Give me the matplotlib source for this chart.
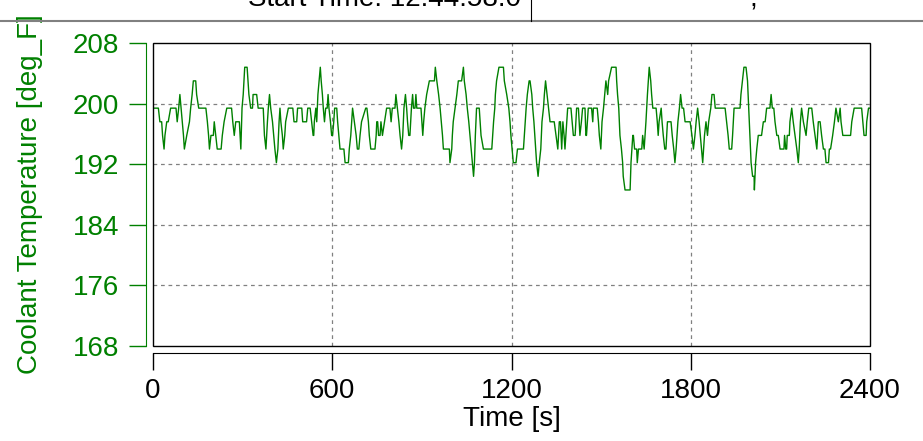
import matplotlib
matplotlib.use('Agg')
import matplotlib.pyplot as plt
from matplotlib.patches import Rectangle
from matplotlib.lines import Line2D

# coolant temperature trace
time_s = [
    0, 18, 23, 29, 32, 37, 40, 46, 51, 59,
    77, 81, 86, 90, 94, 98, 102, 105, 113, 122,
    126, 131, 135, 143, 146, 153, 177, 182, 186, 189,
    194, 202, 205, 210, 215, 228, 232, 238, 247, 263,
    267, 272, 277, 289, 294, 298, 302, 307, 315, 318,
    321, 327, 333, 335, 347, 352, 369, 373, 378, 383,
    386, 390, 394, 400, 404, 408, 413, 418, 422, 425,
    428, 433, 436, 441, 444, 453, 468, 472, 481, 484,
    498, 501, 514, 518, 526, 531, 536, 538, 540, 545,
    548, 552, 556, 560, 563, 567, 570, 574, 578, 583,
    586, 589, 594, 598, 601, 605, 608, 615, 618, 622,
    626, 639, 643, 654, 657, 662, 665, 668, 674, 680,
    684, 689, 693, 698, 712, 716, 721, 724, 729, 743,
    747, 749, 752, 755, 760, 763, 768, 775, 782, 793,
    797, 801, 810, 813, 818, 823, 827, 832, 836, 840,
    845, 849, 852, 856, 860, 865, 869, 872, 877, 880,
    883, 897, 900, 903, 906, 910, 916, 925, 942, 945,
    950, 956, 961, 965, 969, 972, 992, 994, 1000, 1002,
    1005, 1011, 1017, 1022, 1033, 1039, 1042, 1048, 1052, 1057,
    1061, 1065, 1069, 1073, 1076, 1079, 1083, 1092, 1095, 1098,
    1106, 1134, 1137, 1140, 1144, 1146, 1150, 1158, 1173, 1176,
    1184, 1191, 1195, 1198, 1202, 1206, 1215, 1220, 1240, 1243,
    1246, 1249, 1253, 1259, 1262, 1268, 1271, 1275, 1278, 1281,
    1284, 1289, 1293, 1298, 1302, 1307, 1310, 1314, 1319, 1324,
    1329, 1343, 1349, 1355, 1360, 1364, 1368, 1372, 1376, 1379,
    1385, 1388, 1399, 1403, 1407, 1413, 1418, 1424, 1429, 1434,
    1438, 1446, 1449, 1451, 1454, 1457, 1468, 1472, 1474, 1487,
    1491, 1494, 1499, 1503, 1508, 1512, 1516, 1522, 1525, 1535,
    1550, 1552, 1555, 1559, 1561, 1563, 1568, 1572, 1574, 1580,
    1597, 1600, 1603, 1606, 1608, 1612, 1619, 1621, 1625, 1636,
    1639, 1644, 1650, 1655, 1658, 1661, 1666, 1669, 1673, 1684,
    1688, 1691, 1694, 1701, 1704, 1708, 1713, 1717, 1722, 1734,
    1738, 1743, 1747, 1751, 1757, 1762, 1766, 1771, 1776, 1781,
    1798, 1804, 1809, 1814, 1818, 1823, 1828, 1832, 1836, 1840,
    1846, 1851, 1856, 1860, 1867, 1871, 1878, 1882, 1915, 1920,
    1925, 1929, 1937, 1940, 1945, 1965, 1968, 1973, 1978, 1985,
    1990, 1994, 1998, 2002, 2007, 2012, 2013, 2017, 2021, 2026,
    2037, 2043, 2049, 2054, 2065, 2069, 2073, 2078, 2082, 2088,
    2093, 2099, 2112, 2114, 2118, 2121, 2123, 2130, 2132, 2138,
    2143, 2149, 2155, 2160, 2163, 2167, 2171, 2177, 2186, 2190,
    2195, 2205, 2210, 2216, 2222, 2227, 2233, 2238, 2244, 2249,
    2253, 2261, 2264, 2268, 2275, 2281, 2286, 2294, 2300, 2303,
    2309, 2335, 2339, 2347, 2372, 2376, 2380, 2387, 2389, 2395,
    2400,
]
coolant_degF = [
    199.4, 199.4, 197.6, 197.6, 195.8, 194.0, 195.8, 197.6, 197.6, 199.4,
    199.4, 197.6, 199.4, 201.2, 199.4, 197.6, 195.8, 194.0, 195.8, 197.6,
    199.4, 201.2, 203.0, 203.0, 201.2, 199.4, 199.4, 197.6, 195.8, 194.0,
    195.8, 195.8, 197.6, 195.8, 194.0, 194.0, 195.8, 197.6, 199.4, 199.4,
    197.6, 195.8, 197.6, 197.6, 194.0, 199.4, 201.2, 204.8, 204.8, 203.0,
    201.2, 199.4, 199.4, 201.2, 201.2, 199.4, 199.4, 195.8, 194.0, 197.6,
    199.4, 201.2, 199.4, 197.6, 195.8, 194.0, 192.2, 194.0, 197.6, 199.4,
    197.6, 195.8, 194.0, 195.8, 197.6, 199.4, 199.4, 197.6, 197.6, 199.4,
    199.4, 197.6, 197.6, 199.4, 199.4, 197.6, 195.8, 195.8, 197.6, 199.4,
    197.6, 201.2, 203.0, 204.8, 203.0, 201.2, 199.4, 197.6, 199.4, 199.4,
    201.2, 199.4, 197.6, 195.8, 195.8, 197.6, 199.4, 199.4, 197.6, 195.8,
    194.0, 194.0, 192.2, 192.2, 194.0, 195.8, 197.6, 199.4, 197.6, 195.8,
    194.0, 194.0, 195.8, 197.6, 199.4, 199.4, 197.6, 195.8, 194.0, 194.0,
    195.8, 197.6, 197.6, 195.8, 195.8, 197.6, 195.8, 197.6, 199.4, 199.4,
    197.6, 199.4, 199.4, 201.2, 199.4, 197.6, 195.8, 194.0, 195.8, 199.4,
    201.2, 199.4, 197.6, 195.8, 195.8, 199.4, 201.2, 199.4, 199.4, 201.2,
    199.4, 199.4, 197.6, 195.8, 197.6, 199.4, 201.2, 203.0, 203.0, 204.8,
    203.0, 201.2, 199.4, 197.6, 195.8, 194.0, 194.0, 192.2, 194.0, 195.8,
    197.6, 199.4, 201.2, 203.0, 203.0, 204.8, 203.0, 201.2, 199.4, 197.6,
    195.8, 194.0, 192.2, 190.4, 192.2, 195.8, 199.4, 199.4, 197.6, 195.8,
    194.0, 194.0, 195.8, 197.6, 199.4, 201.2, 203.0, 204.8, 204.8, 203.0,
    201.2, 199.4, 197.6, 195.8, 194.0, 192.2, 192.2, 194.0, 194.0, 195.8,
    197.6, 199.4, 201.2, 203.0, 203.0, 201.2, 199.4, 197.6, 195.8, 194.0,
    192.2, 190.4, 192.2, 194.0, 197.6, 199.4, 201.2, 203.0, 201.2, 199.4,
    197.6, 197.6, 195.8, 194.0, 197.6, 197.6, 194.0, 197.6, 195.8, 194.0,
    197.6, 199.4, 199.4, 197.6, 195.8, 195.8, 199.4, 199.4, 195.8, 197.6,
    199.4, 199.4, 195.8, 195.8, 197.6, 199.4, 199.4, 197.6, 199.4, 199.4,
    197.6, 195.8, 194.0, 197.6, 199.4, 201.2, 203.0, 201.2, 203.0, 204.8,
    204.8, 203.0, 201.2, 199.4, 197.6, 195.8, 194.0, 192.2, 190.4, 188.6,
    188.6, 192.2, 194.0, 195.8, 195.8, 194.0, 194.0, 192.2, 194.0, 194.0,
    195.8, 194.0, 197.6, 201.2, 203.0, 204.8, 203.0, 201.2, 199.4, 199.4,
    197.6, 195.8, 197.6, 199.4, 197.6, 195.8, 194.0, 194.0, 197.6, 197.6,
    195.8, 194.0, 192.2, 194.0, 197.6, 199.4, 201.2, 199.4, 199.4, 197.6,
    197.6, 195.8, 194.0, 195.8, 197.6, 199.4, 197.6, 195.8, 194.0, 192.2,
    195.8, 197.6, 195.8, 197.6, 199.4, 201.2, 201.2, 199.4, 199.4, 197.6,
    195.8, 194.0, 194.0, 195.8, 199.4, 199.4, 201.2, 203.0, 204.8, 204.8,
    203.0, 199.4, 195.8, 192.2, 190.4, 190.4, 188.6, 192.2, 194.0, 195.8,
    195.8, 197.6, 197.6, 199.4, 199.4, 201.2, 199.4, 199.4, 197.6, 195.8,
    195.8, 194.0, 194.0, 195.8, 194.0, 194.0, 195.8, 195.8, 197.6, 199.4,
    197.6, 195.8, 194.0, 192.2, 194.0, 197.6, 199.4, 197.6, 195.8, 197.6,
    199.4, 199.4, 197.6, 195.8, 194.0, 197.6, 197.6, 195.8, 194.0, 194.0,
    192.2, 192.2, 194.0, 194.0, 195.8, 197.6, 199.4, 197.6, 199.4, 197.6,
    195.8, 195.8, 197.6, 199.4, 199.4, 197.6, 195.8, 195.8, 197.6, 199.4,
    199.4,
]
x_ticks = [0, 600, 1200, 1800, 2400]
y_ticks = [168, 176, 184, 192, 200, 208]
start_time = 'Start Time: 12:44:58.0'

green = '#008000'
plt.rcParams['font.family'] = ['Liberation Sans', 'DejaVu Sans']

W, H = 923, 441
fig = plt.figure(figsize=(W / 100, H / 100), dpi=100)
ax = fig.add_axes([153 / W, 1 - 346 / H, 717 / W, 303 / H])

ax.plot(time_s, coolant_degF, color=green, lw=1.0, zorder=2)
ax.set_xlim(0, 2400)
ax.set_ylim(168, 208)

# dashed grid only on the inner ticks
for t in x_ticks[1:-1]:
    ax.axvline(t, color='#808080', lw=0.9, ls=(0, (3, 3)), zorder=1)
for v in y_ticks[1:-1]:
    ax.axhline(v, color='#808080', lw=0.9, ls=(0, (3, 3)), zorder=1)

# axis lines sit a little outside the plot frame
ax.spines['left'].set_position(('outward', 5.3))
ax.spines['left'].set_color(green)
ax.spines['bottom'].set_position(('outward', 4.8))
ax.spines['top'].set_visible(False)
ax.spines['right'].set_visible(False)
ax.add_patch(Rectangle((0, 0), 1, 1, transform=ax.transAxes, fill=False,
                       ec='black', lw=1, clip_on=False, zorder=3))

ax.set_xticks(x_ticks)
ax.set_yticks(y_ticks)
ax.tick_params(axis='y', direction='out', length=12, width=1, color=green,
               labelcolor=green, labelsize=20, pad=7)
ax.tick_params(axis='x', direction='out', length=12, width=1, labelsize=20, pad=6)

ax.set_xlabel('Time [s]', fontsize=20)
ax.xaxis.set_label_coords(0.5, (346 - 419) / 303)
ax.xaxis.label.set_va('center')
ax.set_ylabel('Coolant Temperature [deg_F]', fontsize=20, color=green)
ax.yaxis.set_label_coords((30 - 153) / 717, 0.5)
ax.yaxis.label.set_va('center')

# header table, cut off at the top edge
fig.add_artist(Line2D([0, 1], [1 - 21 / H] * 2, transform=fig.transFigure,
                      color='#808080', lw=1.5))
fig.add_artist(Line2D([531 / W] * 2, [1 - 21 / H, 1], transform=fig.transFigure,
                      color='black', lw=0.8))
fig.text(521 / W, 1 - 6 / H, start_time, ha='right', va='baseline', fontsize=20)
fig.text(753 / W, 1 - 6 / H, ',', ha='center', va='baseline', fontsize=20)

fig.savefig('out.png', dpi=100)
